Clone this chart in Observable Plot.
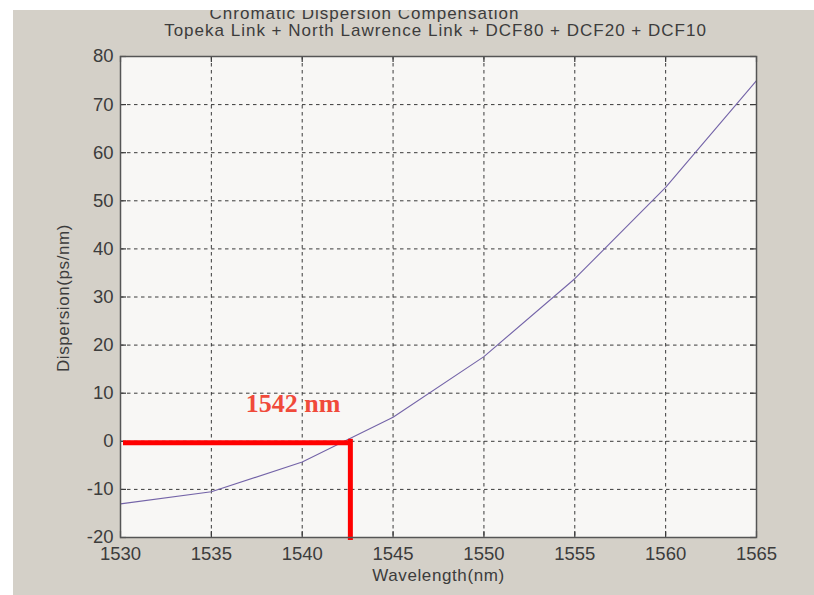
<!DOCTYPE html>
<html>
<head>
<meta charset="utf-8">
<script src="https://cdn.jsdelivr.net/npm/d3@7"></script>
<script src="https://cdn.jsdelivr.net/npm/@observablehq/plot@0.6"></script>
<style>
  html, body { margin: 0; padding: 0; background: #ffffff; }
  #bg { position: absolute; left: 13px; top: 10px; width: 801px; height: 585px; background: #d4d0c8; overflow: hidden; }
  #chart { position: absolute; left: -13px; top: -10px; }
</style>
</head>
<body>
<div id="bg"><div id="chart"></div></div>
<script>
// Data
const wavelengths = [1530, 1535, 1540, 1545, 1550, 1555, 1560, 1565];
const dispersion  = [-13.0, -10.5, -4.3, 5.0, 17.6, 33.8, 52.8, 75.0];
const xTicks = [1530, 1535, 1540, 1545, 1550, 1555, 1560, 1565];
const yTicks = [-20, -10, 0, 10, 20, 30, 40, 50, 60, 70, 80];
const zeroWavelength = 1542.65;
const markerLabel = "1542 nm";
const titleLine1 = "Chromatic Dispersion Compensation";
const titleLine2 = "Topeka Link + North Lawrence Link + DCF80 + DCF20 + DCF10";
const xLabel = "Wavelength(nm)";
const yLabel = "Dispersion(ps/nm)";

const curve = wavelengths.map((w, i) => ({w, d: dispersion[i]}));

const W = 814, H = 595;
const mL = 120, mR = 58, mT = 56, mB = 58;
const fw = W - mL - mR, fh = H - mT - mB;
const font = "Liberation Sans, Arial, sans-serif";
const grid = "#3a3a3a";
const ink = "#3c3c3c";

const plot = Plot.plot({
  width: W, height: H,
  marginLeft: mL, marginRight: mR, marginTop: mT, marginBottom: mB,
  style: {background: "transparent", color: ink, fontFamily: font, overflow: "visible"},
  x: {domain: [1530, 1565], label: null},
  y: {domain: [-20, 80], label: null},
  marks: [
    Plot.frame({fill: "#f8f7f5", stroke: null}),
    Plot.gridX(xTicks, {stroke: grid, strokeOpacity: 1, strokeDasharray: "3.5,3.5", strokeWidth: 1}),
    Plot.gridY(yTicks, {stroke: grid, strokeOpacity: 1, strokeDasharray: "3.5,3.5", strokeWidth: 1}),
    // inward tick marks on all four sides
    Plot.ruleX(xTicks, {x: d => d, insetTop: fh - 6, stroke: grid, strokeWidth: 1.2}),
    Plot.ruleX(xTicks, {x: d => d, insetBottom: fh - 6, stroke: grid, strokeWidth: 1.2}),
    Plot.ruleY(yTicks, {y: d => d, insetRight: fw - 6, stroke: grid, strokeWidth: 1.2}),
    Plot.ruleY(yTicks, {y: d => d, insetLeft: fw - 6, stroke: grid, strokeWidth: 1.2}),
    Plot.axisX({ticks: xTicks, tickSize: 0, tickPadding: 9, fontSize: 18.5, fontFamily: font, label: null, tickFormat: d => String(d)}),
    Plot.axisY({ticks: yTicks, tickSize: 0, tickPadding: 7, fontSize: 18.5, fontFamily: font, label: null, tickFormat: d => String(d)}),
    Plot.line(curve, {x: "w", y: "d", stroke: "#7464a8", strokeWidth: 1.1}),
    // red marker lines
    Plot.ruleY([0], {x1: 1530, x2: zeroWavelength, dy: 1.5, insetLeft: 3, stroke: "#ff0000", strokeWidth: 5}),
    Plot.ruleX([zeroWavelength], {y1: 0, y2: -20, stroke: "#ff0000", strokeWidth: 5, strokeLinecap: "square", dy: 0.5}),
    Plot.text([markerLabel], {x: () => 1539.5, y: () => 7.8, text: d => d, fill: "#f04a3a",
      fontFamily: "Liberation Serif, Times New Roman, serif", fontWeight: "bold", fontSize: 26}),
    Plot.frame({stroke: "#555555", strokeWidth: 1.5}),
    // titles and axis labels
    Plot.text([titleLine1], {frameAnchor: "top", dx: -74, dy: -50, fontSize: 17, fontFamily: font, fill: ink, className: "ttl"}),
    Plot.text([titleLine2], {frameAnchor: "top", dx: -3, dy: -33, fontSize: 17, fontFamily: font, fill: ink, className: "ttl"}),
    Plot.text([xLabel], {frameAnchor: "bottom", dy: 43, fontSize: 17, fontFamily: font, fill: ink, className: "albl"}),
    Plot.text([yLabel], {frameAnchor: "left", textAnchor: "middle", lineAnchor: "middle", dx: -57, dy: 1, rotate: -90, fontSize: 17, fontFamily: font, fill: ink, className: "albl"})
  ]
});
d3.select(plot).selectAll(".ttl text").style("letter-spacing", "1px");
d3.select(plot).selectAll(".albl text").style("letter-spacing", "0.6px");
document.getElementById("chart").appendChild(plot);
</script>
</body>
</html>
